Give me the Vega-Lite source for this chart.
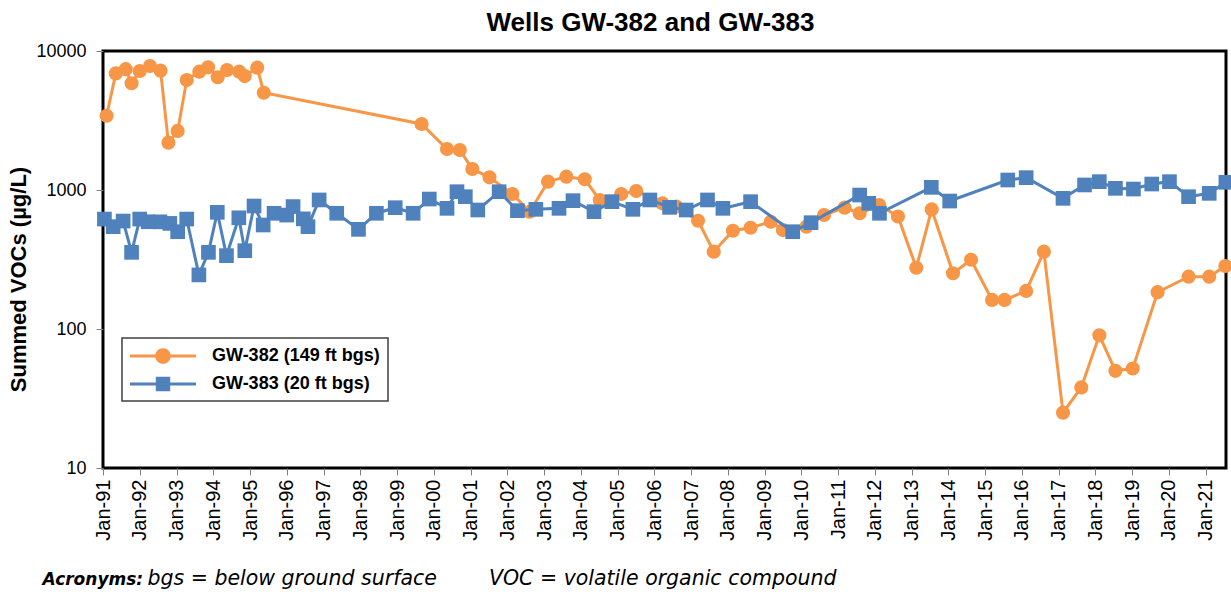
{
  "$schema": "https://vega.github.io/schema/vega-lite/v6.json",
  "width": 1123,
  "height": 417,
  "autosize": "none",
  "padding": {"left": 103, "top": 51, "right": 5, "bottom": 124},
  "background": "white",
  "title": {"text": "Wells GW-382 and GW-383", "font": "Liberation Sans", "fontSize": 26, "fontWeight": "bold", "color": "black", "anchor": "middle", "dx": -14, "offset": 6},
  "config": {
    "view": {"stroke": "black", "strokeWidth": 3},
    "axis": {"domain": false, "grid": false, "tickColor": "#808080", "tickWidth": 1, "labelColor": "black", "titleColor": "black", "labelFont": "Liberation Sans", "titleFont": "Liberation Sans"}
  },
  "data": {"values": [
    {"well": "GW-382 (149 ft bgs)", "date": "1991-02-06", "voc": 3420},
    {"well": "GW-382 (149 ft bgs)", "date": "1991-05-08", "voc": 6900},
    {"well": "GW-382 (149 ft bgs)", "date": "1991-08-15", "voc": 7400},
    {"well": "GW-382 (149 ft bgs)", "date": "1991-10-12", "voc": 5860},
    {"well": "GW-382 (149 ft bgs)", "date": "1992-01-01", "voc": 7180},
    {"well": "GW-382 (149 ft bgs)", "date": "1992-04-12", "voc": 7800},
    {"well": "GW-382 (149 ft bgs)", "date": "1992-07-26", "voc": 7220},
    {"well": "GW-382 (149 ft bgs)", "date": "1992-10-12", "voc": 2190},
    {"well": "GW-382 (149 ft bgs)", "date": "1993-01-12", "voc": 2660},
    {"well": "GW-382 (149 ft bgs)", "date": "1993-04-12", "voc": 6180},
    {"well": "GW-382 (149 ft bgs)", "date": "1993-08-15", "voc": 7100},
    {"well": "GW-382 (149 ft bgs)", "date": "1993-11-10", "voc": 7630},
    {"well": "GW-382 (149 ft bgs)", "date": "1994-02-14", "voc": 6470},
    {"well": "GW-382 (149 ft bgs)", "date": "1994-05-18", "voc": 7300},
    {"well": "GW-382 (149 ft bgs)", "date": "1994-09-16", "voc": 7100},
    {"well": "GW-382 (149 ft bgs)", "date": "1994-11-10", "voc": 6600},
    {"well": "GW-382 (149 ft bgs)", "date": "1995-03-14", "voc": 7590},
    {"well": "GW-382 (149 ft bgs)", "date": "1995-05-18", "voc": 5010},
    {"well": "GW-382 (149 ft bgs)", "date": "1999-09-02", "voc": 2985},
    {"well": "GW-382 (149 ft bgs)", "date": "2000-05-12", "voc": 1972},
    {"well": "GW-382 (149 ft bgs)", "date": "2000-09-16", "voc": 1940},
    {"well": "GW-382 (149 ft bgs)", "date": "2001-01-19", "voc": 1416},
    {"well": "GW-382 (149 ft bgs)", "date": "2001-07-08", "voc": 1234},
    {"well": "GW-382 (149 ft bgs)", "date": "2002-02-21", "voc": 936},
    {"well": "GW-382 (149 ft bgs)", "date": "2002-08-11", "voc": 698},
    {"well": "GW-382 (149 ft bgs)", "date": "2003-02-10", "voc": 1148},
    {"well": "GW-382 (149 ft bgs)", "date": "2003-08-11", "voc": 1247},
    {"well": "GW-382 (149 ft bgs)", "date": "2004-02-10", "voc": 1194},
    {"well": "GW-382 (149 ft bgs)", "date": "2004-07-08", "voc": 848},
    {"well": "GW-382 (149 ft bgs)", "date": "2005-02-06", "voc": 936},
    {"well": "GW-382 (149 ft bgs)", "date": "2005-07-06", "voc": 984},
    {"well": "GW-382 (149 ft bgs)", "date": "2006-03-22", "voc": 802},
    {"well": "GW-382 (149 ft bgs)", "date": "2006-08-08", "voc": 760},
    {"well": "GW-382 (149 ft bgs)", "date": "2007-03-12", "voc": 601},
    {"well": "GW-382 (149 ft bgs)", "date": "2007-08-15", "voc": 360},
    {"well": "GW-382 (149 ft bgs)", "date": "2008-02-21", "voc": 509},
    {"well": "GW-382 (149 ft bgs)", "date": "2008-08-15", "voc": 535},
    {"well": "GW-382 (149 ft bgs)", "date": "2009-03-04", "voc": 591},
    {"well": "GW-382 (149 ft bgs)", "date": "2009-07-02", "voc": 515},
    {"well": "GW-382 (149 ft bgs)", "date": "2010-02-21", "voc": 545},
    {"well": "GW-382 (149 ft bgs)", "date": "2010-08-15", "voc": 661},
    {"well": "GW-382 (149 ft bgs)", "date": "2011-03-08", "voc": 746},
    {"well": "GW-382 (149 ft bgs)", "date": "2011-08-04", "voc": 680},
    {"well": "GW-382 (149 ft bgs)", "date": "2012-02-14", "voc": 780},
    {"well": "GW-382 (149 ft bgs)", "date": "2012-08-19", "voc": 645},
    {"well": "GW-382 (149 ft bgs)", "date": "2013-02-17", "voc": 276},
    {"well": "GW-382 (149 ft bgs)", "date": "2013-07-20", "voc": 725},
    {"well": "GW-382 (149 ft bgs)", "date": "2014-02-17", "voc": 252},
    {"well": "GW-382 (149 ft bgs)", "date": "2014-08-15", "voc": 315},
    {"well": "GW-382 (149 ft bgs)", "date": "2015-03-12", "voc": 162},
    {"well": "GW-382 (149 ft bgs)", "date": "2015-07-14", "voc": 162},
    {"well": "GW-382 (149 ft bgs)", "date": "2016-02-14", "voc": 188},
    {"well": "GW-382 (149 ft bgs)", "date": "2016-08-08", "voc": 360},
    {"well": "GW-382 (149 ft bgs)", "date": "2017-02-14", "voc": 25},
    {"well": "GW-382 (149 ft bgs)", "date": "2017-08-15", "voc": 38},
    {"well": "GW-382 (149 ft bgs)", "date": "2018-02-10", "voc": 90},
    {"well": "GW-382 (149 ft bgs)", "date": "2018-07-20", "voc": 50},
    {"well": "GW-382 (149 ft bgs)", "date": "2019-01-08", "voc": 52},
    {"well": "GW-382 (149 ft bgs)", "date": "2019-09-12", "voc": 184},
    {"well": "GW-382 (149 ft bgs)", "date": "2020-07-16", "voc": 238},
    {"well": "GW-382 (149 ft bgs)", "date": "2021-02-06", "voc": 238},
    {"well": "GW-382 (149 ft bgs)", "date": "2021-07-16", "voc": 284},
    {"well": "GW-383 (20 ft bgs)", "date": "1991-01-15", "voc": 618},
    {"well": "GW-383 (20 ft bgs)", "date": "1991-04-12", "voc": 545},
    {"well": "GW-383 (20 ft bgs)", "date": "1991-07-20", "voc": 598},
    {"well": "GW-383 (20 ft bgs)", "date": "1991-10-12", "voc": 356},
    {"well": "GW-383 (20 ft bgs)", "date": "1992-01-01", "voc": 618},
    {"well": "GW-383 (20 ft bgs)", "date": "1992-03-25", "voc": 591},
    {"well": "GW-383 (20 ft bgs)", "date": "1992-07-20", "voc": 590},
    {"well": "GW-383 (20 ft bgs)", "date": "1992-10-26", "voc": 575},
    {"well": "GW-383 (20 ft bgs)", "date": "1993-01-12", "voc": 501},
    {"well": "GW-383 (20 ft bgs)", "date": "1993-04-12", "voc": 618},
    {"well": "GW-383 (20 ft bgs)", "date": "1993-08-11", "voc": 245},
    {"well": "GW-383 (20 ft bgs)", "date": "1993-11-14", "voc": 356},
    {"well": "GW-383 (20 ft bgs)", "date": "1994-02-10", "voc": 691},
    {"well": "GW-383 (20 ft bgs)", "date": "1994-05-12", "voc": 337},
    {"well": "GW-383 (20 ft bgs)", "date": "1994-09-12", "voc": 631},
    {"well": "GW-383 (20 ft bgs)", "date": "1994-11-10", "voc": 366},
    {"well": "GW-383 (20 ft bgs)", "date": "1995-02-10", "voc": 767},
    {"well": "GW-383 (20 ft bgs)", "date": "1995-05-12", "voc": 560},
    {"well": "GW-383 (20 ft bgs)", "date": "1995-08-28", "voc": 680},
    {"well": "GW-383 (20 ft bgs)", "date": "1996-01-01", "voc": 660},
    {"well": "GW-383 (20 ft bgs)", "date": "1996-03-04", "voc": 760},
    {"well": "GW-383 (20 ft bgs)", "date": "1996-06-14", "voc": 620},
    {"well": "GW-383 (20 ft bgs)", "date": "1996-07-30", "voc": 545},
    {"well": "GW-383 (20 ft bgs)", "date": "1996-11-18", "voc": 848},
    {"well": "GW-383 (20 ft bgs)", "date": "1997-05-12", "voc": 680},
    {"well": "GW-383 (20 ft bgs)", "date": "1997-12-14", "voc": 521},
    {"well": "GW-383 (20 ft bgs)", "date": "1998-06-10", "voc": 680},
    {"well": "GW-383 (20 ft bgs)", "date": "1998-12-14", "voc": 746},
    {"well": "GW-383 (20 ft bgs)", "date": "1999-06-10", "voc": 680},
    {"well": "GW-383 (20 ft bgs)", "date": "1999-11-18", "voc": 861},
    {"well": "GW-383 (20 ft bgs)", "date": "2000-05-12", "voc": 738},
    {"well": "GW-383 (20 ft bgs)", "date": "2000-08-19", "voc": 972},
    {"well": "GW-383 (20 ft bgs)", "date": "2000-11-10", "voc": 895},
    {"well": "GW-383 (20 ft bgs)", "date": "2001-03-14", "voc": 718},
    {"well": "GW-383 (20 ft bgs)", "date": "2001-10-12", "voc": 972},
    {"well": "GW-383 (20 ft bgs)", "date": "2002-04-12", "voc": 710},
    {"well": "GW-383 (20 ft bgs)", "date": "2002-10-12", "voc": 726},
    {"well": "GW-383 (20 ft bgs)", "date": "2003-05-30", "voc": 738},
    {"well": "GW-383 (20 ft bgs)", "date": "2003-10-16", "voc": 838},
    {"well": "GW-383 (20 ft bgs)", "date": "2004-05-12", "voc": 698},
    {"well": "GW-383 (20 ft bgs)", "date": "2004-11-06", "voc": 824},
    {"well": "GW-383 (20 ft bgs)", "date": "2005-06-02", "voc": 726},
    {"well": "GW-383 (20 ft bgs)", "date": "2005-11-18", "voc": 848},
    {"well": "GW-383 (20 ft bgs)", "date": "2006-06-02", "voc": 750},
    {"well": "GW-383 (20 ft bgs)", "date": "2006-11-14", "voc": 718},
    {"well": "GW-383 (20 ft bgs)", "date": "2007-06-14", "voc": 848},
    {"well": "GW-383 (20 ft bgs)", "date": "2007-11-14", "voc": 738},
    {"well": "GW-383 (20 ft bgs)", "date": "2008-08-15", "voc": 824},
    {"well": "GW-383 (20 ft bgs)", "date": "2009-10-08", "voc": 501},
    {"well": "GW-383 (20 ft bgs)", "date": "2010-04-08", "voc": 582},
    {"well": "GW-383 (20 ft bgs)", "date": "2011-08-04", "voc": 920},
    {"well": "GW-383 (20 ft bgs)", "date": "2011-11-02", "voc": 802},
    {"well": "GW-383 (20 ft bgs)", "date": "2012-02-17", "voc": 680},
    {"well": "GW-383 (20 ft bgs)", "date": "2013-07-16", "voc": 1045},
    {"well": "GW-383 (20 ft bgs)", "date": "2014-01-15", "voc": 833},
    {"well": "GW-383 (20 ft bgs)", "date": "2015-08-15", "voc": 1180},
    {"well": "GW-383 (20 ft bgs)", "date": "2016-02-14", "voc": 1227},
    {"well": "GW-383 (20 ft bgs)", "date": "2017-02-14", "voc": 871},
    {"well": "GW-383 (20 ft bgs)", "date": "2017-09-16", "voc": 1087},
    {"well": "GW-383 (20 ft bgs)", "date": "2018-02-10", "voc": 1148},
    {"well": "GW-383 (20 ft bgs)", "date": "2018-07-20", "voc": 1028},
    {"well": "GW-383 (20 ft bgs)", "date": "2019-01-15", "voc": 1016},
    {"well": "GW-383 (20 ft bgs)", "date": "2019-07-16", "voc": 1104},
    {"well": "GW-383 (20 ft bgs)", "date": "2020-01-08", "voc": 1148},
    {"well": "GW-383 (20 ft bgs)", "date": "2020-07-16", "voc": 895},
    {"well": "GW-383 (20 ft bgs)", "date": "2021-02-06", "voc": 946},
    {"well": "GW-383 (20 ft bgs)", "date": "2021-07-22", "voc": 1136}
  ]},
  "encoding": {
    "y": {"field": "voc", "type": "quantitative",
      "scale": {"type": "log", "domain": [10, 10000], "nice": false},
      "axis": {"values": [10, 100, 1000, 10000], "format": "d", "labelFontSize": 18, "tickSize": 7, "labelPadding": 10,
        "title": "Summed VOCs (µg/L)", "titleFontSize": 22, "titleFontWeight": "bold", "titleAngle": -90, "titleX": -85, "titleY": 228, "titleAlign": "center", "titleBaseline": "middle"}},
    "color": {"field": "well", "type": "nominal",
      "scale": {"domain": ["GW-382 (149 ft bgs)", "GW-383 (20 ft bgs)"], "range": ["#F79646", "#4F81BD"]},
      "legend": {"orient": "none", "legendX": 19, "legendY": 287, "title": null, "padding": 8, "rowPadding": 9,
        "symbolSize": 400, "symbolOffset": 23, "labelOffset": 39, "labelLimit": 400,
        "labelExpr": "datum.label + '\u00a0\u00a0\u00a0\u00a0\u00a0\u00a0'",
        "labelFont": "Liberation Sans", "labelFontSize": 18, "labelFontWeight": "bold", "labelColor": "black",
        "fillColor": "white", "strokeColor": "#404040",
        "encode": {
          "symbols": {"update": {
            "shape": {"signal": "datum.value == 'GW-382 (149 ft bgs)' ? 'M-3.3,-0.15H3.3V0.15H-3.3Z M0.78,0A0.78,0.78 0 1,1 -0.78,0A0.78,0.78 0 1,1 0.78,0Z' : 'M-3.3,-0.15H3.3V0.15H-3.3Z M-0.72,-0.72H0.72V0.72H-0.72Z'"},
            "fill": {"scale": "color", "field": "value"},
            "fillOpacity": {"value": 1},
            "opacity": {"value": 1},
            "strokeWidth": {"value": 0}
          }},
          "legend": {"update": {"strokeWidth": {"value": 1.5}}}
        }}}
  },
  "resolve": {"axis": {"x": "independent"}},
  "layer": [
    {
      "transform": [{"filter": "datum.well == 'GW-382 (149 ft bgs)'"}],
      "mark": {"type": "line", "strokeWidth": 3},
      "encoding": {
        "x": {"field": "date", "type": "temporal",
          "scale": {"type": "utc", "nice": false, "domain": [{"year": 1991, "month": 1, "date": 1, "utc": true}, {"year": 2021, "month": 7, "date": 23, "utc": true}]},
          "axis": {"orient": "bottom", "format": "%b-%y", "tickCount": {"interval": "year", "step": 1}, "labelAngle": -90, "labelAlign": "right", "labelBaseline": "middle", "labelFontSize": 20, "tickSize": 7, "labelPadding": 4, "labelOverlap": false, "labelFlush": false,
            "title": "Acronyms:", "titleFont": "DejaVu Sans", "titleFontSize": 17, "titleFontWeight": "bold", "titleFontStyle": "italic", "titleAnchor": "start", "titleAlign": "left", "titleX": -61, "titleY": 116, "titleBaseline": "alphabetic"}}
      }
    },
    {
      "transform": [{"filter": "datum.well == 'GW-382 (149 ft bgs)'"}],
      "mark": {"type": "point", "shape": "circle", "filled": true, "opacity": 1, "size": 200},
      "encoding": {
        "x": {"field": "date", "type": "temporal",
          "axis": {"orient": "bottom", "labels": false, "ticks": false, "domain": false,
            "title": "bgs = below ground surface\u00a0\u00a0\u00a0\u00a0\u00a0\u00a0\u00a0\u00a0VOC = volatile organic compound", "titleFont": "DejaVu Sans", "titleFontSize": 20.5, "titleFontWeight": "normal", "titleFontStyle": "italic", "titleAnchor": "start", "titleAlign": "left", "titleX": 44, "titleY": 116, "titleBaseline": "alphabetic"}}
      }
    },
    {
      "transform": [{"filter": "datum.well == 'GW-383 (20 ft bgs)'"}],
      "mark": {"type": "line", "strokeWidth": 3},
      "encoding": {"x": {"field": "date", "type": "temporal", "axis": null}}
    },
    {
      "transform": [{"filter": "datum.well == 'GW-383 (20 ft bgs)'"}],
      "mark": {"type": "point", "shape": "square", "filled": true, "opacity": 1, "size": 215},
      "encoding": {"x": {"field": "date", "type": "temporal", "axis": null}}
    }
  ]
}
